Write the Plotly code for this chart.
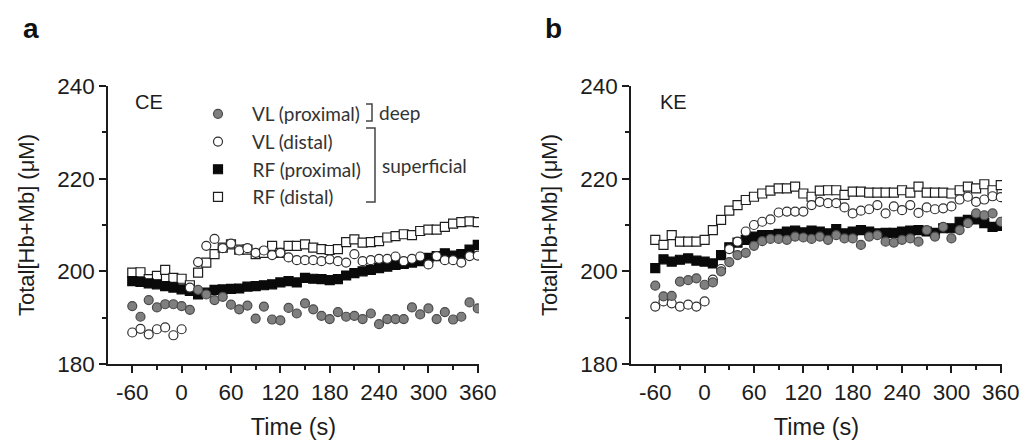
import plotly.graph_objects as go

# ---------------- data ----------------
TIME_S = [-60, -50, -40, -30, -20, -10, 0, 10, 20, 30, 40, 50, 60, 70, 80, 90, 100,
          110, 120, 130, 140, 150, 160, 170, 180, 190, 200, 210, 220, 230, 240,
          250, 260, 270, 280, 290, 300, 310, 320, 330, 340, 350, 360]

SERIES_NAMES = ["VL (proximal)", "VL (distal)", "RF (proximal)", "RF (distal)"]
PANEL_LABELS = ["CE", "KE"]
X_TICKS = [-60, 0, 60, 120, 180, 240, 300, 360]
X_TICK_LABELS = ["-60", "0", "60", "120", "180", "240", "300", "360"]
Y_TICKS = [180, 200, 220, 240]

# Panel a (CE)
CE_VL_PROX = [192.5, 190.2, 193.8, 192.2, 192.9, 192.9, 192.5,
              191.7, 196.0, 195.0, 193.8, 194.5, 192.8, 191.8, 192.6, 189.8, 192.4,
              189.6, 189.4, 192.1, 190.9, 193.1, 191.8, 190.4, 189.7, 191.2, 190.2,
              190.4, 189.7, 190.9, 188.6, 189.7, 189.7, 189.7, 192.2, 190.7, 192.0,
              189.7, 191.2, 189.6, 190.2, 193.3, 192.0]
CE_VL_DIST = [186.8, 187.6, 186.4, 187.5, 187.9, 186.2, 187.5,
              196.5, 202.0, 205.5, 207.0, 205.0, 206.0, 204.5, 205.0, 204.0, 204.5,
              203.5, 204.0, 203.0, 202.4, 202.4, 202.4, 202.2, 202.6, 202.2, 201.9,
              203.7, 202.2, 202.4, 202.7, 202.7, 203.2, 202.2, 202.7, 203.2, 201.5,
              203.3, 202.4, 202.4, 201.9, 203.3, 203.4]
CE_RF_PROX = [197.9, 197.7, 197.4, 197.2, 196.8, 196.5, 196.1,
              195.8, 195.0, 195.4, 196.0, 196.1, 196.2, 196.3, 196.7, 196.8, 197.0,
              197.2, 197.6, 197.9, 197.6, 198.6, 198.4, 198.3, 198.1, 198.3, 199.1,
              199.6, 200.0, 200.3, 200.7, 201.0, 201.4, 201.6, 201.9, 202.2, 202.9,
              203.3, 203.9, 203.4, 203.7, 204.7, 205.7]
CE_RF_DIST = [199.7, 199.8, 198.3, 199.0, 200.3, 198.6, 198.4,
              197.0, 199.7, 201.9, 203.7, 205.1, 205.8, 204.7, 204.7, 203.7, 204.0,
              205.5, 204.0, 205.5, 205.5, 205.8, 205.1, 204.8, 204.6, 204.8, 206.3,
              206.9, 206.2, 206.3, 206.5, 207.3, 207.6, 208.0, 207.8, 208.7, 209.0,
              209.0, 209.6, 210.3, 210.6, 210.8, 210.6]

# Panel b (KE)
KE_VL_PROX = [196.9, 194.6, 194.7, 197.8, 198.1, 198.5, 197.1,
              197.6, 200.0, 202.0, 203.5, 204.0, 205.5, 206.5, 207.0, 207.0, 206.8,
              207.5, 207.3, 207.0, 207.5, 206.8, 207.8, 207.1, 207.1, 205.7, 207.5,
              207.8, 206.4, 206.2, 206.8, 207.1, 206.4, 208.9, 207.5, 209.6, 207.1,
              208.9, 210.4, 212.5, 212.1, 212.5, 210.7]
KE_VL_DIST = [192.4, 193.5, 193.1, 192.4, 192.8, 192.4, 193.5,
              198.2, 200.5, 204.8, 206.4, 208.6, 210.0, 210.7, 211.2, 212.7, 212.9,
              212.9, 212.9, 214.3, 215.0, 214.7, 214.7, 213.8, 212.5, 213.1, 213.4,
              214.3, 212.5, 214.0, 213.2, 214.3, 212.6, 213.8, 213.4, 213.6, 214.0,
              215.5, 216.1, 215.0, 215.5, 216.2, 216.0]
KE_RF_PROX = [200.7, 202.6, 202.1, 202.5, 202.8, 202.3, 202.1,
              201.7, 203.5, 205.2, 206.2, 206.8, 207.5, 207.8, 207.8, 208.1, 208.6,
              208.8, 208.4, 208.8, 208.6, 208.2, 209.1, 208.2, 208.6, 208.9, 208.6,
              208.2, 208.3, 208.3, 208.6, 208.8, 208.9, 208.6, 208.3, 209.3, 209.3,
              210.7, 211.1, 211.2, 210.4, 209.6, 209.8]
KE_RF_DIST = [206.8, 205.7, 207.8, 206.4, 206.4, 206.4, 206.8,
              208.9, 211.1, 213.1, 214.3, 215.4, 216.1, 216.8, 217.4, 217.9, 217.9,
              218.3, 216.8, 216.1, 217.4, 217.5, 217.5, 216.5, 217.2, 217.2, 217.0,
              217.0, 217.0, 217.0, 217.5, 217.0, 218.3, 217.0, 217.0, 217.0, 216.8,
              217.5, 218.3, 217.9, 218.8, 217.5, 218.6]

# ---------------- layout constants ----------------
W, H = 1027, 446
ML, MR, MT, MB = 108, 25, 86, 82
PW = W - ML - MR
PH = H - MT - MB

def px(x):
    return (x - ML) / PW

def py(y):
    return (H - MB - y) / PH

AX_FONT = "Liberation Sans, Arial, sans-serif"
LEG_FONT = "Lato, Carlito, Calibri, sans-serif"
INK = "#1c1c1c"
LEG_INK = "#333333"

styles = {
    "VL (proximal)": dict(symbol="circle", color="#7f7f7f", line=dict(color="#4a4a4a", width=1.2)),
    "VL (distal)": dict(symbol="circle", color="#ffffff", line=dict(color="#2e2e2e", width=1.2)),
    "RF (proximal)": dict(symbol="square", color="#0a0a0a", line=dict(color="#0a0a0a", width=1.2)),
    "RF (distal)": dict(symbol="square", color="#ffffff", line=dict(color="#1e1e1e", width=1.2)),
}

fig = go.Figure()
panels = [
    ("x", "y", [CE_VL_PROX, CE_VL_DIST, CE_RF_PROX, CE_RF_DIST], True),
    ("x2", "y2", [KE_VL_PROX, KE_VL_DIST, KE_RF_PROX, KE_RF_DIST], False),
]
for xa, ya, vals, show in panels:
    # draw RF distal first, VL proximal last (on top)
    for name, v in reversed(list(zip(SERIES_NAMES, vals))):
        st = styles[name]
        fig.add_trace(go.Scatter(
            x=TIME_S, y=v, mode="markers", name="\u00a0\u00a0\u00a0" + name,
            xaxis=xa, yaxis=ya, showlegend=show, legendgroup=name,
            marker=dict(symbol=st["symbol"], size=9, color=st["color"], line=st["line"]),
            hoverinfo="x+y",
        ))

def xaxis_cfg(domain):
    return dict(
        domain=domain, range=[-89.5, 361.5], tickmode="array",
        tickvals=X_TICKS, ticktext=X_TICK_LABELS, automargin=False,
        ticks="outside", ticklen=7, tickwidth=1.5, tickcolor=INK,
        minor=dict(tickmode="array", tickvals=[-30, 30, 90, 150, 210, 270, 330],
                   ticks="outside", ticklen=4, tickwidth=1.5, tickcolor=INK),
        showline=True, linecolor=INK, linewidth=1.5, showgrid=False, zeroline=False,
        tickfont=dict(family=AX_FONT, size=22.5, color=INK),
        title=dict(text="Time (s)", font=dict(family=AX_FONT, size=23.5, color=INK), standoff=15),
    )

def yaxis_cfg(anchor):
    return dict(
        domain=[0, 1], range=[180, 240], anchor=anchor, tickmode="array", tickvals=Y_TICKS,
        automargin=False,
        ticks="outside", ticklen=7, tickwidth=1.5, tickcolor=INK,
        minor=dict(tickmode="array", tickvals=[190, 210, 230],
                   ticks="outside", ticklen=4, tickwidth=1.5, tickcolor=INK),
        showline=True, linecolor=INK, linewidth=1.5, showgrid=False, zeroline=False,
        tickfont=dict(family=AX_FONT, size=22.5, color=INK),
        title=dict(text="Total[Hb+Mb] (μM)", font=dict(family=AX_FONT, size=22, color=INK), standoff=17),
    )

fig.update_layout(
    width=W, height=H, margin=dict(l=ML, r=MR, t=MT, b=MB, autoexpand=False),
    paper_bgcolor="white", plot_bgcolor="white",
    xaxis=xaxis_cfg([0, px(479)]),
    yaxis=yaxis_cfg("x"),
    xaxis2=xaxis_cfg([px(631), 1]),
    yaxis2=yaxis_cfg("x2"),
    legend=dict(
        x=px(198), y=py(95), xanchor="left", yanchor="top",
        traceorder="reversed", tracegroupgap=2, itemwidth=30,
        font=dict(family=LEG_FONT, size=19, color=LEG_INK),
        bgcolor="rgba(0,0,0,0)", borderwidth=0,
    ),
    showlegend=True,
)

annotations = [
    dict(text="<b>a</b>", x=px(31), y=py(29), font=dict(family=AX_FONT, size=28, color="#111111")),
    dict(text="<b>b</b>", x=px(553), y=py(29), font=dict(family=AX_FONT, size=28, color="#111111")),
    dict(text=PANEL_LABELS[0], x=px(149), y=py(102), font=dict(family=AX_FONT, size=20, color=INK)),
    dict(text=PANEL_LABELS[1], x=px(673), y=py(102), font=dict(family=AX_FONT, size=20, color=INK)),
    dict(text="deep", x=px(377), y=py(112), xanchor="left",
         font=dict(family=LEG_FONT, size=19, color=LEG_INK)),
    dict(text="superficial", x=px(380), y=py(165), xanchor="left",
         font=dict(family=LEG_FONT, size=19, color=LEG_INK)),
]
for a in annotations:
    a.setdefault("xanchor", "center")
    a.update(xref="paper", yref="paper", yanchor="middle", showarrow=False)
fig.update_layout(annotations=annotations)

def bracket(x0, x1, y0, y1):
    return dict(type="path", xref="paper", yref="paper",
                path=f"M {px(x0)},{py(y0)} L {px(x1)},{py(y0)} L {px(x1)},{py(y1)} L {px(x0)},{py(y1)}",
                line=dict(color="#444444", width=1.5))

fig.update_layout(shapes=[bracket(366, 372, 104, 121), bracket(366, 375, 128, 202)])

fig.write_html("out.html")
